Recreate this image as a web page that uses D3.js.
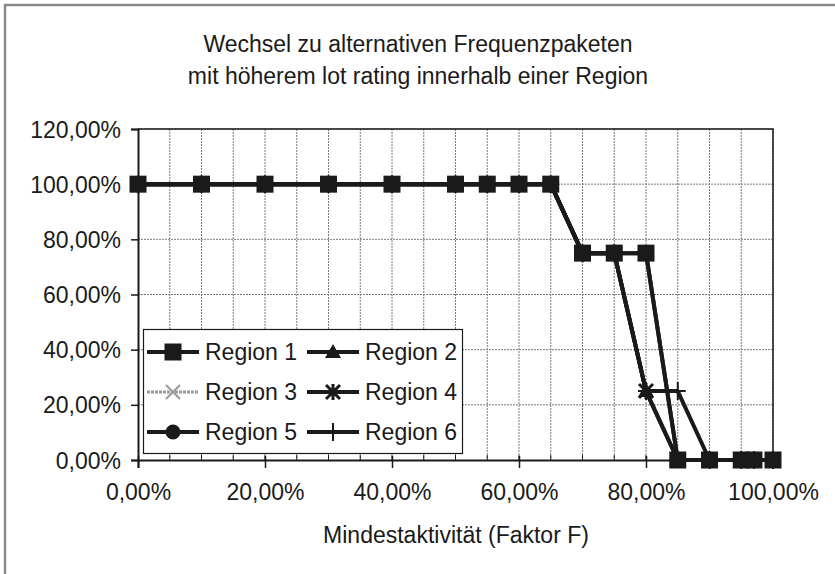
<!DOCTYPE html>
<html>
<head>
<meta charset="utf-8">
<script src="https://cdn.jsdelivr.net/npm/d3@7"></script>
<style>
    body { margin: 0; background: #fff; }
    svg { display: block; font-family: "Liberation Sans", Arial, sans-serif; fill: #1a1a1a; }
    .chartTitle, .axisTitle { font-size: 23px; text-anchor: middle; }
    .tickLabel { font-size: 23px; }
    .grid { stroke: #7a7a7a; stroke-width: 1; stroke-dasharray: 2,1; }
    .series { fill: none; stroke: #1a1a1a; stroke-width: 4; stroke-linejoin: round; }
    .series.grey { stroke: #9a9a9a; stroke-width: 3; stroke-dasharray: 3,1; }
    .legend text { font-size: 23px; }
</style>
</head>
<body>
<script>
'use strict';

// Mindestaktivität (Faktor F), share of packets switched per region
const faktorF = [0, 0.10, 0.20, 0.30, 0.40, 0.50, 0.55, 0.60, 0.65, 0.70, 0.75, 0.80, 0.85, 0.90, 0.95, 0.97, 1.00];
const region1 = [1, 1, 1, 1, 1, 1, 1, 1, 1, 0.75, 0.75, 0.75, 0, 0, 0, 0, 0];
const region2 = [1, 1, 1, 1, 1, 1, 1, 1, 1, 0.75, 0.75, 0.25, 0, 0, 0, 0, 0];
const region3 = [1, 1, 1, 1, 1, 1, 1, 1, 1, 0.75, 0.75, 0.75, 0, 0, 0, 0, 0];
const region4 = [1, 1, 1, 1, 1, 1, 1, 1, 1, 0.75, 0.75, 0.25, 0, 0, 0, 0, 0];
const region5 = [1, 1, 1, 1, 1, 1, 1, 1, 1, 0.75, 0.75, 0.75, 0, 0, 0, 0, 0];
const region6 = [1, 1, 1, 1, 1, 1, 1, 1, 1, 0.75, 0.75, 0.25, 0.25, 0, 0, 0, 0];
const regionNames = ['Region 1', 'Region 2', 'Region 3', 'Region 4', 'Region 5', 'Region 6'];
const markerKinds = ['square', 'triangle', 'cross', 'star', 'circle', 'plus'];
const xTicks = [0, 0.2, 0.4, 0.6, 0.8, 1.0];
const yTicks = [0, 0.2, 0.4, 0.6, 0.8, 1.0, 1.2];
const titleLines = ['Wechsel zu alternativen Frequenzpaketen', 'mit höherem lot rating innerhalb einer Region'];
const xTitle = 'Mindestaktivität (Faktor F)';

(function () {

    const deLocale = d3.formatLocale({ decimal: ',', thousands: '.', grouping: [3], currency: ['', ' €'] });
    const pct = deLocale.format('.2%');

    function getPlotArea() {
        return {
            svg: { width: 835, height: 574 },
            left: 138, right: 773, top: 129, bottom: 460
        };
    }

    function makeScales(plot) {
        return {
            x: d3.scaleLinear().domain([0, 1]).range([plot.left, plot.right]),
            y: d3.scaleLinear().domain([0, 1.2]).range([plot.bottom, plot.top])
        };
    }

    /**
     * Draws one marker symbol centred on 0,0 into the given group.
     */
    function appendMarker(g, kind) {
        const ink = '#1a1a1a';
        if (kind === 'square') {
            g.append('rect').attr('x', -8.5).attr('y', -8.5).attr('width', 17).attr('height', 17).attr('fill', ink);
        } else if (kind === 'triangle') {
            g.append('path').attr('d', 'M0,-8L8,6L-8,6Z').attr('fill', ink);
        } else if (kind === 'circle') {
            g.append('circle').attr('r', 7.5).attr('fill', ink);
        } else if (kind === 'cross') {
            g.append('path').attr('d', 'M-7,-7L7,7M-7,7L7,-7').attr('stroke', '#9a9a9a').attr('stroke-width', 2);
        } else if (kind === 'star') {
            g.append('path').attr('d', 'M-7,-7L7,7M-7,7L7,-7M0,-8V8')
                .attr('stroke', ink).attr('stroke-width', 3);
        } else if (kind === 'plus') {
            g.append('path').attr('d', 'M-8,0H8M0,-9V9').attr('stroke', ink).attr('stroke-width', 2);
        }
    }

    function appendFrame(svg, plot) {
        svg.append('path')
            .attr('d', 'M5,' + plot.svg.height + 'V5H' + plot.svg.width)
            .attr('fill', 'none').attr('stroke', '#8a8a8a').attr('stroke-width', 2.5);
    }

    function appendTitle(svg) {
        svg.selectAll('.chartTitle')
            .data(titleLines)
            .enter().append('text')
            .attr('class', 'chartTitle')
            .attr('x', 418)
            .attr('y', (d, i) => 52 + i * 32)
            .text(d => d);
    }

    function appendGrid(svg, plot, scales) {
        const minor = d3.range(0, 1.0001, 0.05);
        svg.append('g').selectAll('line')
            .data(minor.slice(1))
            .enter().append('line')
            .attr('class', 'grid')
            .attr('x1', d => scales.x(d)).attr('x2', d => scales.x(d))
            .attr('y1', plot.top).attr('y2', plot.bottom);
        svg.append('g').selectAll('line')
            .data(yTicks.slice(1))
            .enter().append('line')
            .attr('class', 'grid')
            .attr('x1', plot.left).attr('x2', plot.right)
            .attr('y1', d => scales.y(d)).attr('y2', d => scales.y(d));
        // plot border top / right
        svg.append('path')
            .attr('d', 'M' + plot.left + ',' + plot.top + 'H' + plot.right + 'V' + plot.bottom)
            .attr('fill', 'none').attr('stroke', '#1a1a1a').attr('stroke-width', 1.5);
    }

    function appendAxes(svg, plot, scales) {
        const xAxis = svg.append('g')
            .attr('transform', 'translate(0,' + plot.bottom + ')')
            .call(d3.axisBottom(scales.x).tickValues(xTicks).tickSize(8).tickFormat(pct));
        xAxis.select('.domain').attr('stroke', '#1a1a1a').attr('stroke-width', 2);
        xAxis.selectAll('.tick line').attr('stroke', '#1a1a1a').attr('stroke-width', 1.5).attr('y1', -4);
        xAxis.selectAll('.tick text')
            .attr('class', 'tickLabel').attr('font-size', null).attr('font-family', null)
            .attr('fill', '#1a1a1a').attr('dy', null).attr('y', 40);

        // minor ticks inside the plot
        svg.append('g').selectAll('line')
            .data(d3.range(0.05, 1.0001, 0.05))
            .enter().append('line')
            .attr('x1', d => scales.x(d)).attr('x2', d => scales.x(d))
            .attr('y1', plot.bottom - 5).attr('y2', plot.bottom)
            .attr('stroke', '#1a1a1a').attr('stroke-width', 1);

        const yAxis = svg.append('g')
            .attr('transform', 'translate(' + plot.left + ',0)')
            .call(d3.axisLeft(scales.y).tickValues(yTicks).tickSize(7).tickFormat(pct));
        yAxis.select('.domain').attr('stroke', '#1a1a1a').attr('stroke-width', 2);
        yAxis.selectAll('.tick line').attr('stroke', '#1a1a1a').attr('stroke-width', 1.5);
        yAxis.selectAll('.tick text')
            .attr('class', 'tickLabel').attr('font-size', null).attr('font-family', null)
            .attr('fill', '#1a1a1a').attr('x', -17).attr('dy', '0.35em');

        svg.append('text')
            .attr('class', 'axisTitle')
            .attr('x', 456)
            .attr('y', 543)
            .text(xTitle);
    }

    function appendSeries(svg, scales) {
        const all = [region1, region2, region3, region4, region5, region6];
        const line = d3.line()
            .x((d, i) => scales.x(faktorF[i]))
            .y(d => scales.y(d));
        // later regions first so Region 1 ends on top, as in the original
        for (let k = all.length - 1; k >= 0; --k) {
            const grp = svg.append('g');
            grp.append('path')
                .datum(all[k])
                .attr('class', k === 2 ? 'series grey' : 'series')
                .attr('d', line);
            grp.selectAll('g')
                .data(all[k])
                .enter().append('g')
                .attr('transform', (d, i) => 'translate(' + scales.x(faktorF[i]) + ',' + scales.y(d) + ')')
                .each(function () { appendMarker(d3.select(this), markerKinds[k]); });
        }
    }

    function appendLegend(svg) {
        const legend = svg.append('g').attr('class', 'legend');
        legend.append('rect')
            .attr('x', 143.5).attr('y', 329.5).attr('width', 319).attr('height', 124)
            .attr('fill', '#fff').attr('stroke', '#1a1a1a').attr('stroke-width', 1.2);
        regionNames.forEach((name, i) => {
            const col = i % 2;
            const row = Math.floor(i / 2);
            const x0 = col === 0 ? 147 : 307;
            const cy = 352 + row * 40;
            const row_g = legend.append('g');
            row_g.append('path')
                .attr('class', i === 2 ? 'series grey' : 'series')
                .attr('d', 'M' + x0 + ',' + cy + 'H' + (x0 + 52));
            appendMarker(row_g.append('g').attr('transform', 'translate(' + (x0 + 26) + ',' + cy + ')'), markerKinds[i]);
            row_g.append('text')
                .attr('x', x0 + 58)
                .attr('y', cy + 8)
                .text(name);
        });
    }

    function draw() {
        const plot = getPlotArea();
        const svg = d3.select('body').append('svg')
            .attr('width', plot.svg.width)
            .attr('height', plot.svg.height);
        const scales = makeScales(plot);
        appendFrame(svg, plot);
        appendTitle(svg);
        appendGrid(svg, plot, scales);
        appendAxes(svg, plot, scales);
        appendSeries(svg, scales);
        appendLegend(svg);
    }

    draw();

})();
</script>
</body>
</html>
